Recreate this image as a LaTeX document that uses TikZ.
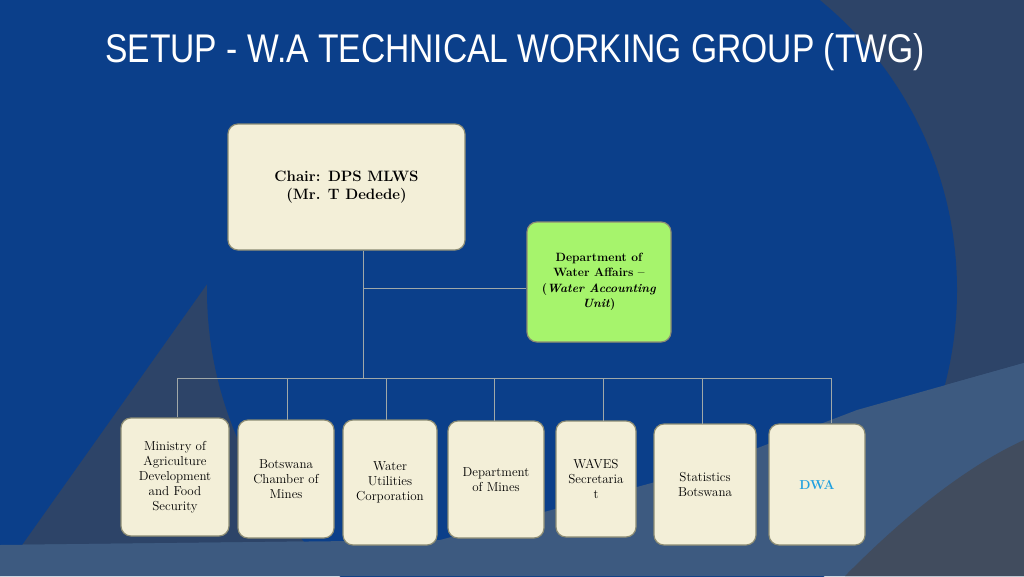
\documentclass[tikz,border=0pt]{standalone}
\usepackage{fontspec}
\newfontfamily\titlefont{Liberation Sans}
\definecolor{bgblue}{HTML}{0B3F8A}
\definecolor{slate}{HTML}{2D4468}
\definecolor{band}{HTML}{3D5A80}
\definecolor{corner}{HTML}{414C5E}
\definecolor{cream}{HTML}{F3EFD8}
\definecolor{boxline}{HTML}{8C8C74}
\definecolor{green}{HTML}{A6F46C}
\definecolor{dwa}{HTML}{1EA0E0}
\definecolor{conn}{HTML}{A0A8A8}
\begin{document}
\begin{tikzpicture}[x=1pt,y=-1pt,
  box/.style={draw=boxline,line width=1.2pt,fill=cream,rounded corners=10pt,inner sep=0pt,align=center,font=\fontsize{13}{15}\selectfont},
  link/.style={draw=conn,line width=1pt}]
\useasboundingbox (0,0) rectangle (1024,576);
\fill[slate] (0,0) rectangle (1024,576);
\fill[band] (0,545) -- (440,540) -- (857,410) -- (1024,363) -- (1024,576) -- (0,576) -- cycle;
\fill[bgblue] (0,0) -- (820,0) arc[start angle=-50.7,end angle=50.7,radius=375,y radius=-375] -- (0,576) -- cycle;
\begin{scope}
\clip (0,0) rectangle (1024,576);
\fill[bgblue] (582,290) circle (375);
\fill[band] (0,545) -- (440,540) -- (700,470) -- (857,410) -- (1024,363) -- (1024,576) -- (0,576) -- cycle;
\end{scope}
\fill[corner] (845,576) .. controls (920,500) and (980,460) .. (1024,440) -- (1024,576) -- cycle;
\node[text=white,font=\titlefont\fontsize{40}{44}\selectfont,xscale=0.84] (title) at (515,52) {SETUP - W.A TECHNICAL WORKING GROUP (TWG)};

\node[box,minimum width=237pt,minimum height=126pt,font=\fontsize{15}{18}\selectfont\bfseries] (chair) at (346.5,187) {Chair: DPS MLWS\\(Mr. T Dedede)};
\node[box,fill=green,minimum width=144pt,minimum height=120pt,font=\fontsize{12}{15.5}\selectfont\bfseries] (dwau) at (599,282) {Department of\\Water Affairs --\\(\textit{Water Accounting}\\\textit{Unit})};

\node[box,minimum width=108pt,minimum height=118pt] (b1) at (175,477) {Ministry of\\Agriculture\\Development\\and Food\\Security};
\node[box,minimum width=96pt,minimum height=118pt] (b2) at (286,479) {Botswana\\Chamber of\\Mines};
\node[box,minimum width=94pt,minimum height=125pt] (b3) at (390,482.5) {Water\\Utilities\\Corporation};
\node[box,minimum width=96pt,minimum height=117pt] (b4) at (496,479.5) {Department\\of Mines};
\node[box,minimum width=80pt,minimum height=116pt] (b5) at (596,479) {WAVES\\Secretaria\\t};
\node[box,minimum width=102pt,minimum height=121pt] (b6) at (705,484.5) {Statistics\\Botswana};
\node[box,minimum width=96pt,minimum height=121pt,text=dwa,font=\fontsize{13}{15}\selectfont\bfseries] (b7) at (817,484.5) {DWA};

\coordinate (hub) at (363,378);
\coordinate (mid) at (363,288);
\coordinate (hl) at (177,378);
\coordinate (hr) at (831,378);
\draw[link] (chair.south -| hub) -- (hub);
\draw[link] (mid) -- (dwau.west |- mid);
\draw[link] (hl) -- (hr);
\draw[link] (hl) -- (hl |- b1.north);
\draw[link] (287,378) -- (287,420);
\draw[link] (386,378) -- (386,420);
\draw[link] (494,378) -- (494,421);
\draw[link] (603,378) -- (603,421);
\draw[link] (702,378) -- (702,424);
\draw[link] (hr) -- (hr |- b7.north);
\end{tikzpicture}
\end{document}
